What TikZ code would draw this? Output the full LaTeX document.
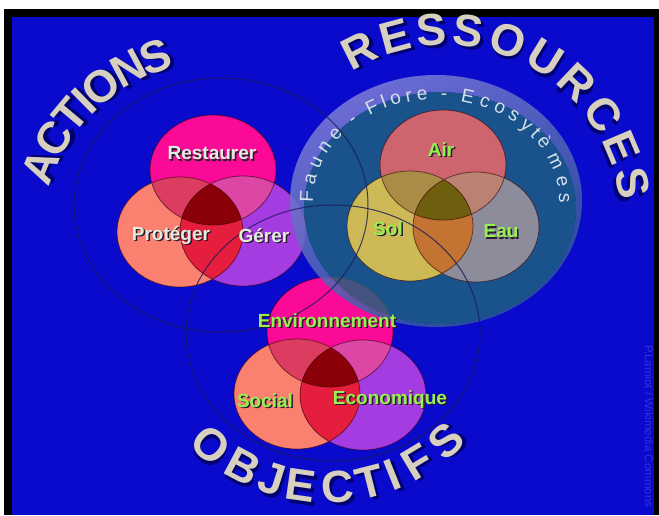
\documentclass[tikz,border=0pt]{standalone}
\usepackage{fontspec}
\setmainfont{Liberation Sans}
\usetikzlibrary{decorations.text}

\definecolor{bgblue}{RGB}{10,10,205}
\definecolor{pkA}{RGB}{250,10,150}
\definecolor{pkB}{RGB}{250,128,112}
\definecolor{pkC}{RGB}{165,60,225}
\definecolor{pkAB}{RGB}{220,60,95}
\definecolor{pkAC}{RGB}{220,70,165}
\definecolor{pkBC}{RGB}{228,30,60}
\definecolor{pkABC}{RGB}{140,0,10}
\definecolor{rsA}{RGB}{205,100,110}
\definecolor{rsB}{RGB}{205,185,85}
\definecolor{rsC}{RGB}{140,140,155}
\definecolor{rsAB}{RGB}{170,140,70}
\definecolor{rsAC}{RGB}{185,130,115}
\definecolor{rsBC}{RGB}{195,115,50}
\definecolor{rsABC}{RGB}{110,95,15}
\definecolor{rimlight}{RGB}{125,125,215}
\definecolor{rimdark}{RGB}{45,85,150}
\definecolor{disccore}{RGB}{30,100,125}
\definecolor{ringline}{RGB}{25,25,90}
\definecolor{titlebeige}{RGB}{215,208,190}
\definecolor{titleshade}{RGB}{0,0,110}
\definecolor{labelshade}{RGB}{45,25,45}
\definecolor{labelwhite}{RGB}{228,236,222}
\definecolor{labelgreen}{RGB}{150,240,80}
\definecolor{rimtext}{RGB}{215,225,235}
\definecolor{creditblue}{RGB}{50,50,215}

\tikzset{
  vennline/.style={draw=black!80!red, line width=.8pt, opacity=.6},
  bigring/.style={draw=ringline, line width=1pt, opacity=.8},
  title/.style={font=\fontsize{45}{45}\selectfont\bfseries, text=titlebeige, inner sep=0pt},
  lbl/.style={font=\fontsize{19}{19}\selectfont\bfseries, inner sep=0pt},
  credit/.style={font=\fontsize{11.5}{11.5}\selectfont, text=creditblue, inner sep=0pt}
}

% text with a dropped shadow: offset, shadow colour, text
\newcommand{\dropped}[3]{%
  \rlap{\kern#1\raisebox{-#1}{\textcolor{#2}{#3}}}#3}

% three overlapping ellipses: top, left, right centres and colour prefix
\newcommand{\threeset}[4]{%
  \fill[#4A] #1 ellipse (63 and 55);
  \fill[#4B] #2 ellipse (63 and 55);
  \fill[#4C] #3 ellipse (63 and 55);
  \begin{scope}
    \clip #1 ellipse (63 and 55);
    \fill[#4AB] #2 ellipse (63 and 55);
    \fill[#4AC] #3 ellipse (63 and 55);
  \end{scope}
  \begin{scope}
    \clip #2 ellipse (63 and 55);
    \fill[#4BC] #3 ellipse (63 and 55);
  \end{scope}
  \begin{scope}
    \clip #1 ellipse (63 and 55);
    \clip #2 ellipse (63 and 55);
    \fill[#4ABC] #3 ellipse (63 and 55);
  \end{scope}
  \draw[vennline] #1 ellipse (63 and 55) #2 ellipse (63 and 55) #3 ellipse (63 and 55);}

\begin{document}
\begin{tikzpicture}[x=1pt,y=-1pt]
\useasboundingbox (0,0) rectangle (659,515);
\fill[white] (0,0) rectangle (659,515);
\fill[black] (4,9) rectangle (659,515);
\fill[bgblue] (12,17) rectangle (654,515);

% Actions and objectifs
\threeset{(213,170)}{(180,232)}{(243,231)}{pk}
\threeset{(330,332)}{(297,394)}{(363,395)}{pk}

% Ressources disc
\shade[even odd rule, top color=rimlight, bottom color=rimdark, shading angle=30, opacity=.85]
  (436,201) ellipse (146 and 126) (440,208) ellipse (136 and 116);
\fill[disccore, opacity=.82] (440,208) ellipse (136 and 116);
\path[decorate, decoration={text effects along path,
    text={Faune - Flore - Ecosytèmes},
    text effects/.cd, text along path, fit text to path,
    characters={text=rimtext, font=\fontsize{19}{19}\selectfont}}]
  (313,203) arc[start angle=-181, end angle=1, x radius=123, y radius=102];
\threeset{(443,165)}{(410,226)}{(476,227)}{rs}

% Big rings
\draw[bigring] (221,205) ellipse (147 and 127);
\draw[bigring] (333,333) ellipse (147 and 128);

% Labels
\node[lbl, text=labelwhite] (restaurer) at (212,154) {\dropped{1.5pt}{labelshade}{Restaurer}};
\node[lbl, text=labelwhite] (proteger) at (171,236) {\dropped{1.5pt}{labelshade}{Protéger}};
\node[lbl, text=labelwhite] (gerer) at (264,236) {\dropped{1.5pt}{labelshade}{Gérer}};
\node[lbl, text=labelgreen] (air) at (441,150) {\dropped{1.5pt}{labelshade}{Air}};
\node[lbl, text=labelgreen] (sol) at (388,229) {\dropped{1.5pt}{labelshade}{Sol}};
\node[lbl, text=labelgreen] (eau) at (501,232) {\dropped{1.5pt}{labelshade}{Eau}};
\node[lbl, text=labelgreen] (environnement) at (327,321) {\dropped{1.5pt}{labelshade}{Environnement}};
\node[lbl, text=labelgreen] (social) at (265,401) {\dropped{1.5pt}{labelshade}{Social}};
\node[lbl, text=labelgreen] (economique) at (390,400) {\dropped{1.5pt}{labelshade}{Economique}};

% Titles
\foreach \ch/\a [count=\i] in {A/157.7,C/148.5,T/140.1,I/134.4,O/127.7,N/118.2,S/109.4}
  \node[title, rotate=\a-90] (act\i) at ({220+193*cos(\a)},{240-193*sin(\a)}) {\dropped{3pt}{titleshade}{\ch}};
\foreach \ch/\a [count=\i] in {R/116.6,E/105.1,S/94.0,S/82.9,O/70.9,U/58.4,R/46.4,C/34.4,E/22.9,S/11.8}
  \node[title, rotate=\a-90] (res\i) at ({445+190*cos(\a)},{223-192*sin(\a)}) {\dropped{3pt}{titleshade}{\ch}};
\foreach \ch/\a [count=\i] in {O/229.5,B/242.0,J/252.3,E/261.8,C/273.8,T/284.3,I/291.9,F/301.0,S/312.5}
  \node[title, rotate=\a+90] (obj\i) at ({326+179*cos(\a)},{310-179*sin(\a)}) {\dropped{3pt}{titleshade}{\ch}};

\node[credit, rotate=-90, anchor=west] (credit) at (649,345) {P.Lamiot / Wikimedia Commons};
\end{tikzpicture}
\end{document}
